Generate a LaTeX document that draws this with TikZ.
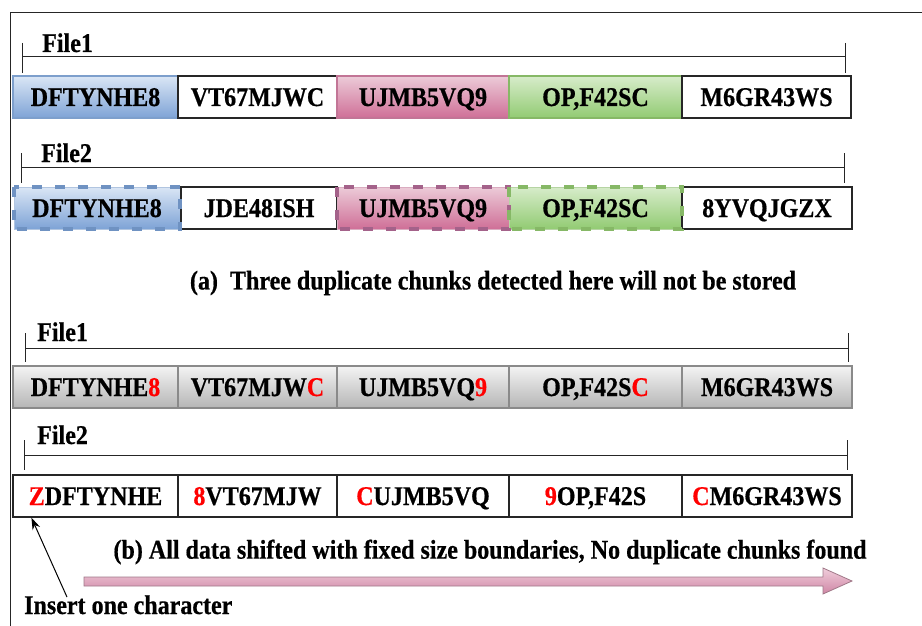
\documentclass[tikz,border=0pt]{standalone}
\usepackage{fontspec}
\setmainfont{Liberation Serif}[BoldFeatures={FakeStretch=0.89,FakeBold=0.6}]
\usetikzlibrary{arrows.meta}
\definecolor{blueTop}{HTML}{DAE6F5}
\definecolor{blueBot}{HTML}{7EA3D6}
\definecolor{blueLine}{HTML}{7D9FCC}
\definecolor{blueDash}{HTML}{6F92C2}
\definecolor{pinkTop}{HTML}{ECCBD8}
\definecolor{pinkBot}{HTML}{CF6F97}
\definecolor{pinkLine}{HTML}{C27596}
\definecolor{pinkDash}{HTML}{A4628A}
\definecolor{greenTop}{HTML}{D7ECCA}
\definecolor{greenBot}{HTML}{92CB73}
\definecolor{greenLine}{HTML}{86B866}
\definecolor{greenDash}{HTML}{86B866}
\definecolor{grayTop}{HTML}{F4F4F4}
\definecolor{grayBot}{HTML}{B5B5B5}
\definecolor{grayLine}{HTML}{8A8A8A}
\definecolor{arrTop}{HTML}{F0CDDB}
\definecolor{arrBot}{HTML}{CF86A5}
\definecolor{arrLine}{HTML}{A07888}
\definecolor{hl}{HTML}{FF0000}
\begin{document}
\begin{tikzpicture}[x=1pt,y=-1pt,
  every node/.style={font=\fontsize{27}{30}\selectfont\bfseries, inner sep=0pt},
  chunk/.style={minimum height=42pt, text height=18pt, text depth=0pt},
  plain/.style={chunk, fill=white, draw=black!85, line width=1.2pt},
  bluebox/.style={chunk, top color=blueTop, bottom color=blueBot, draw=blueLine, line width=1.2pt},
  pinkbox/.style={chunk, top color=pinkTop, bottom color=pinkBot, draw=pinkLine, line width=1.2pt},
  greenbox/.style={chunk, top color=greenTop, bottom color=greenBot, draw=greenLine, line width=1.2pt},
  dashline/.style={draw=#1, line width=4pt, dash pattern=on 10pt off 13pt},
  graybox/.style={chunk, top color=grayTop, bottom color=grayBot, draw=grayLine, line width=1.8pt},
  bracket/.style={draw=black!85, line width=1pt},
  lbl/.style={anchor=base west}
]
\useasboundingbox (0,0) rectangle (922,626);
% outer frame
\coordinate (fTL) at (10,13);
\draw[black!85, line width=1pt] (922,13) -- (fTL) -- (10,626);

% ---------- Row 1 ----------
\node[lbl] (f1a) at (42,52) {File1};
\coordinate (r1l) at (22,57); \coordinate (r1r) at (845,57);
\draw[bracket] (r1l) -- (r1r) (22,43) -- (22,73) (845,43) -- (845,73);
\node[bluebox, minimum width=165pt] (a1) at (95.5,97) {DFTYNHE8};
\node[plain, minimum width=159pt] (a2) at (257.5,97) {VT67MJWC};
\node[pinkbox, minimum width=172pt] (a3) at (423,97) {UJMB5VQ9};
\node[greenbox, minimum width=173pt] (a4) at (595.5,97) {OP,F42SC};
\node[plain, minimum width=169pt] (a5) at (766.5,97) {M6GR43WS};

% ---------- Row 2 ----------
\node[lbl] (f2a) at (41,162) {File2};
\coordinate (r2l) at (21,167); \coordinate (r2r) at (844,167);
\draw[bracket] (r2l) -- (r2r) (21,153) -- (21,183) (844,153) -- (844,183);
\node[chunk, top color=blueTop, bottom color=blueBot, draw=blueLine!60, line width=0.8pt, minimum width=166pt] (b1) at (97,208) {DFTYNHE8};
\node[plain, minimum width=156pt] (b2) at (259,208) {JDE48ISH};
\node[chunk, top color=pinkTop, bottom color=pinkBot, draw=pinkLine!60, line width=0.8pt, minimum width=172pt] (b3) at (423,208) {UJMB5VQ9};
\node[chunk, top color=greenTop, bottom color=greenBot, draw=greenLine!60, line width=0.8pt, minimum width=173pt] (b4) at (595.5,208) {OP,F42SC};
\node[plain, minimum width=170pt] (b5) at (767,208) {8YVQJGZX};
\draw[dashline=blueDash] (b1.north west) rectangle (b1.south east);
\draw[dashline=pinkDash] (b3.north west) rectangle (b3.south east);
\draw[dashline=greenDash] (b4.north west) rectangle (b4.south east);

\node (capa) at (493,283) {(a)\ \ Three duplicate chunks detected here will not be stored};

% ---------- Row 3 ----------
\node[lbl] (f1b) at (37,341) {File1};
\coordinate (r3l) at (25,348); \coordinate (r3r) at (848,348);
\draw[bracket] (r3l) -- (r3r) (25,333) -- (25,362) (848,333) -- (848,362);
\node[graybox, minimum width=165pt] (c1) at (95.5,387) {DFTYNHE\textcolor{hl}{8}};
\node[graybox, minimum width=159pt] (c2) at (257.5,387) {VT67MJW\textcolor{hl}{C}};
\node[graybox, minimum width=172pt] (c3) at (423,387) {UJMB5VQ\textcolor{hl}{9}};
\node[graybox, minimum width=173pt] (c4) at (595.5,387) {OP,F42S\textcolor{hl}{C}};
\node[graybox, minimum width=170pt] (c5) at (767,387) {M6GR43WS};

% ---------- Row 4 ----------
\node[lbl] (f2b) at (37,444) {File2};
\coordinate (r4l) at (24,455); \coordinate (r4r) at (847,455);
\draw[bracket] (r4l) -- (r4r) (24,440) -- (24,470) (847,440) -- (847,470);
\node[plain, minimum width=165pt] (d1) at (95.5,496) {\textcolor{hl}{Z}DFTYNHE};
\node[plain, minimum width=159pt] (d2) at (257.5,496) {\textcolor{hl}{8}VT67MJW};
\node[plain, minimum width=172pt] (d3) at (423,496) {\textcolor{hl}{C}UJMB5VQ};
\node[plain, minimum width=173pt] (d4) at (595.5,496) {\textcolor{hl}{9}OP,F42S};
\node[plain, minimum width=170pt] (d5) at (767,496) {\textcolor{hl}{C}M6GR43WS};

\node (capb) at (490,552) {(b) All data shifted with fixed size boundaries, No duplicate chunks found};

% big pink arrow
\draw[top color=arrTop, bottom color=arrBot, draw=arrLine, line width=0.8pt]
  (84,577) -- (823,577) -- (823,568) -- (852,581) -- (823,594) -- (823,586) -- (84,586) -- cycle;

% insert annotation
\node[anchor=base west] (ins) at (24,614) {Insert one character};
\coordinate (tip) at ([xshift=19pt]d1.south west);
\draw[-{Stealth[length=12pt,width=8pt]}, line width=1pt] ([xshift=43pt,yshift=-2pt]ins.north west) -- (tip);
\end{tikzpicture}
\end{document}
